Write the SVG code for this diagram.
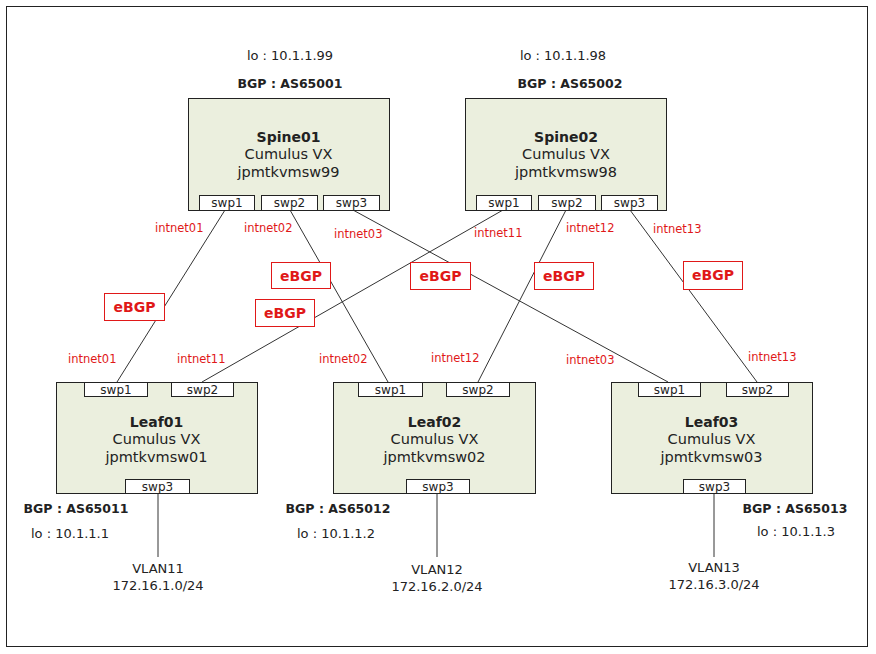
<svg xmlns="http://www.w3.org/2000/svg" width="876" height="654" viewBox="0 0 876 654">
<style>
text{font-family:"DejaVu Sans","Liberation Sans",sans-serif;fill:#222}
.box{fill:#ebefde;stroke:#222;stroke-width:1}
.port{fill:#fff;stroke:#222;stroke-width:1}
.pt{font-size:12px;text-anchor:middle}
.nm{font-size:14px;font-weight:bold;text-anchor:middle}
.sub{font-size:14.5px;text-anchor:middle}
.lo{font-size:13px}
.bgp{font-size:12.5px;font-weight:bold}
.net{font-size:11.5px;fill:#e01818}
.eb{fill:#fff;stroke:#e01818;stroke-width:1}
.ebt{font-size:14px;font-weight:bold;fill:#e01818;text-anchor:middle}
.ln{stroke:#333;stroke-width:1;fill:none}
.vl{font-size:13px;text-anchor:middle}
</style>
<rect x="0" y="0" width="876" height="654" fill="#fff"/>
<rect x="6.5" y="6.5" width="861" height="640" fill="none" stroke="#222" stroke-width="1"/>

<g id="connectors">
<line class="ln" x1="225" y1="210" x2="117" y2="382"/>
<line class="ln" x1="290" y1="210" x2="388" y2="382"/>
<line class="ln" x1="353" y1="210" x2="668" y2="382"/>
<line class="ln" x1="503" y1="210" x2="202" y2="382"/>
<line class="ln" x1="566" y1="210" x2="478" y2="382"/>
<line class="ln" x1="630" y1="210" x2="757" y2="382"/>
<line class="ln" x1="158" y1="493" x2="158" y2="557"/>
<line class="ln" x1="437" y1="493" x2="437" y2="557"/>
<line class="ln" x1="714" y1="493" x2="714" y2="557"/>
</g>

<g id="labels">
<text class="net" x="155" y="232">intnet01</text>
<text class="net" x="244" y="232">intnet02</text>
<text class="net" x="334" y="238">intnet03</text>
<text class="net" x="474" y="237">intnet11</text>
<text class="net" x="566" y="232">intnet12</text>
<text class="net" x="653" y="233">intnet13</text>
<text class="net" x="68" y="363">intnet01</text>
<text class="net" x="177" y="363">intnet11</text>
<text class="net" x="319" y="363">intnet02</text>
<text class="net" x="431" y="362">intnet12</text>
<text class="net" x="566" y="364">intnet03</text>
<text class="net" x="748" y="361">intnet13</text>
</g>

<g id="ebgp">
<rect class="eb" x="104.5" y="293.5" width="60" height="27"/><text class="ebt" x="134.5" y="312">eBGP</text>
<rect class="eb" x="271.5" y="262.5" width="59" height="26"/><text class="ebt" x="301" y="281">eBGP</text>
<rect class="eb" x="255.5" y="299.5" width="59" height="27"/><text class="ebt" x="285" y="318">eBGP</text>
<rect class="eb" x="410.5" y="262.5" width="60" height="27"/><text class="ebt" x="440.5" y="281">eBGP</text>
<rect class="eb" x="534.5" y="262.5" width="59" height="27"/><text class="ebt" x="564" y="281">eBGP</text>
<rect class="eb" x="683.5" y="261.5" width="59" height="28"/><text class="ebt" x="713" y="280">eBGP</text>
</g>

<g id="spine01">
<text class="lo" x="290" y="60" text-anchor="middle">lo : 10.1.1.99</text>
<text class="bgp" x="290" y="88" text-anchor="middle">BGP : AS65001</text>
<rect class="box" x="188.5" y="98.5" width="201" height="112"/>
<text class="nm" x="288.5" y="142">Spine01</text>
<text class="sub" x="288.5" y="159">Cumulus VX</text>
<text class="sub" x="288.5" y="177">jpmtkvmsw99</text>
<rect class="port" x="199.5" y="195.5" width="55" height="15"/><text class="pt" x="227" y="207">swp1</text>
<rect class="port" x="261.5" y="195.5" width="56" height="15"/><text class="pt" x="289.5" y="207">swp2</text>
<rect class="port" x="323.5" y="195.5" width="56" height="15"/><text class="pt" x="351.5" y="207">swp3</text>
</g>

<g id="spine02">
<text class="lo" x="563" y="60" text-anchor="middle">lo : 10.1.1.98</text>
<text class="bgp" x="570" y="88" text-anchor="middle">BGP : AS65002</text>
<rect class="box" x="465.5" y="98.5" width="201" height="112"/>
<text class="nm" x="566" y="142">Spine02</text>
<text class="sub" x="566" y="159">Cumulus VX</text>
<text class="sub" x="566" y="177">jpmtkvmsw98</text>
<rect class="port" x="476.5" y="195.5" width="55" height="15"/><text class="pt" x="504" y="207">swp1</text>
<rect class="port" x="538.5" y="195.5" width="57" height="15"/><text class="pt" x="567" y="207">swp2</text>
<rect class="port" x="601.5" y="195.5" width="56" height="15"/><text class="pt" x="629.5" y="207">swp3</text>
</g>

<g id="leaf01">
<rect class="box" x="56.5" y="382.5" width="201" height="111"/>
<rect class="port" x="84.5" y="382.5" width="63" height="14"/><text class="pt" x="116" y="394">swp1</text>
<rect class="port" x="171.5" y="382.5" width="62" height="14"/><text class="pt" x="202.5" y="394">swp2</text>
<text class="nm" x="156.5" y="427">Leaf01</text>
<text class="sub" x="156.5" y="444">Cumulus VX</text>
<text class="sub" x="156.5" y="462">jpmtkvmsw01</text>
<rect class="port" x="125.5" y="479.5" width="64" height="14"/><text class="pt" x="157.5" y="491">swp3</text>
<text class="bgp" x="76" y="513" text-anchor="middle">BGP : AS65011</text>
<text class="lo" x="31" y="538">lo : 10.1.1.1</text>
<text class="vl" x="158" y="573">VLAN11</text>
<text class="vl" x="158" y="590">172.16.1.0/24</text>
</g>

<g id="leaf02">
<rect class="box" x="333.5" y="382.5" width="202" height="111"/>
<rect class="port" x="358.5" y="382.5" width="64" height="14"/><text class="pt" x="390.5" y="394">swp1</text>
<rect class="port" x="446.5" y="382.5" width="63" height="14"/><text class="pt" x="478" y="394">swp2</text>
<text class="nm" x="434.5" y="427">Leaf02</text>
<text class="sub" x="434.5" y="444">Cumulus VX</text>
<text class="sub" x="434.5" y="462">jpmtkvmsw02</text>
<rect class="port" x="406.5" y="479.5" width="63" height="14"/><text class="pt" x="438" y="491">swp3</text>
<text class="bgp" x="338" y="513" text-anchor="middle">BGP : AS65012</text>
<text class="lo" x="297" y="538">lo : 10.1.1.2</text>
<text class="vl" x="437" y="574">VLAN12</text>
<text class="vl" x="437" y="591">172.16.2.0/24</text>
</g>

<g id="leaf03">
<rect class="box" x="611.5" y="382.5" width="201" height="111"/>
<rect class="port" x="638.5" y="382.5" width="62" height="14"/><text class="pt" x="669.5" y="394">swp1</text>
<rect class="port" x="726.5" y="382.5" width="62" height="14"/><text class="pt" x="757.5" y="394">swp2</text>
<text class="nm" x="711.5" y="427">Leaf03</text>
<text class="sub" x="711.5" y="444">Cumulus VX</text>
<text class="sub" x="711.5" y="462">jpmtkvmsw03</text>
<rect class="port" x="683.5" y="479.5" width="62" height="14"/><text class="pt" x="714.5" y="491">swp3</text>
<text class="bgp" x="795" y="513" text-anchor="middle">BGP : AS65013</text>
<text class="lo" x="757" y="536">lo : 10.1.1.3</text>
<text class="vl" x="714" y="572">VLAN13</text>
<text class="vl" x="714" y="589">172.16.3.0/24</text>
</g>
</svg>
